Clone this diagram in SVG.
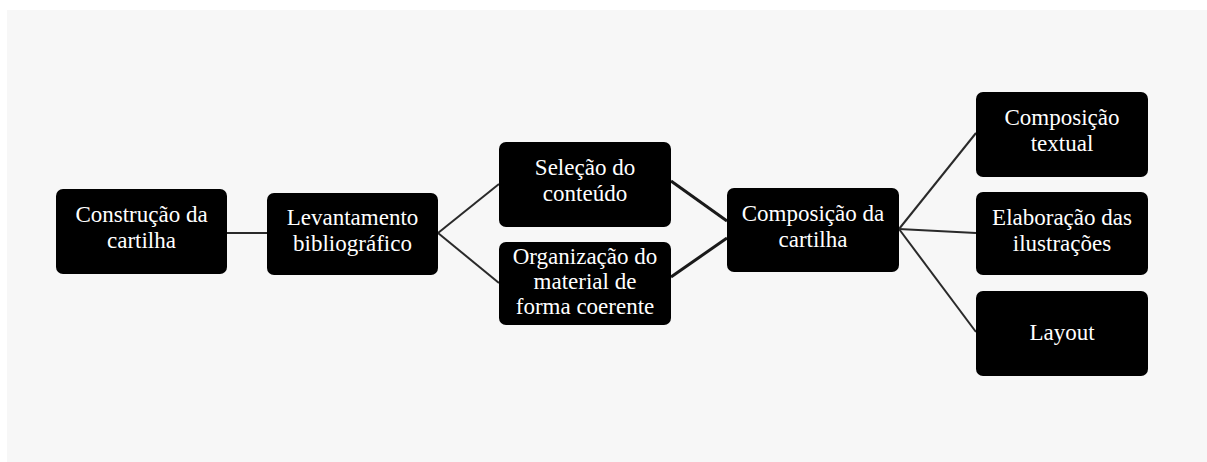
<svg xmlns="http://www.w3.org/2000/svg" width="1207" height="462" viewBox="0 0 1207 462">
<style>
.box{fill:#000;}
.t{font-family:"Liberation Serif","DejaVu Serif",serif;font-size:23px;fill:#fff;text-anchor:middle;}
.c{stroke:#2a2a2a;stroke-width:2;fill:none;}
.c3{stroke:#1a1a1a;stroke-width:3;fill:none;}
</style>
<rect x="0" y="0" width="1207" height="462" fill="#ffffff"/>
<rect x="7" y="10" width="1200" height="452" fill="#f7f7f7"/>
<g id="connectors">
<line class="c" x1="227" y1="233" x2="267" y2="233"/>
<line class="c" x1="438" y1="233" x2="499" y2="184"/>
<line class="c" x1="438" y1="233" x2="499" y2="283"/>
<line class="c3" x1="671" y1="181" x2="727" y2="221"/>
<line class="c3" x1="671" y1="277" x2="727" y2="238"/>
<line class="c" x1="899" y1="229" x2="976" y2="133"/>
<line class="c" x1="899" y1="229" x2="976" y2="233"/>
<line class="c" x1="899" y1="229" x2="976" y2="332"/>
</g>
<g id="n1">
<rect class="box" x="56" y="189" width="171" height="85" rx="7"/>
<text class="t" x="141.5" y="222">Construção da</text>
<text class="t" x="141.5" y="248">cartilha</text>
</g>
<g id="n2">
<rect class="box" x="267" y="193" width="171" height="82" rx="7"/>
<text class="t" x="352.5" y="225">Levantamento</text>
<text class="t" x="352.5" y="251">bibliográfico</text>
</g>
<g id="n3">
<rect class="box" x="499" y="142" width="172" height="85" rx="7"/>
<text class="t" x="585" y="175">Seleção do</text>
<text class="t" x="585" y="201">conteúdo</text>
</g>
<g id="n4">
<rect class="box" x="499" y="242" width="172" height="83" rx="7"/>
<text class="t" x="585" y="264">Organização do</text>
<text class="t" x="585" y="289">material de</text>
<text class="t" x="585" y="314">forma coerente</text>
</g>
<g id="n5">
<rect class="box" x="727" y="188" width="172" height="84" rx="7"/>
<text class="t" x="813" y="221">Composição da</text>
<text class="t" x="813" y="247">cartilha</text>
</g>
<g id="n6">
<rect class="box" x="976" y="92" width="172" height="85" rx="7"/>
<text class="t" x="1062" y="125">Composição</text>
<text class="t" x="1062" y="151">textual</text>
</g>
<g id="n7">
<rect class="box" x="976" y="192" width="172" height="83" rx="7"/>
<text class="t" x="1062" y="225">Elaboração das</text>
<text class="t" x="1062" y="251">ilustrações</text>
</g>
<g id="n8">
<rect class="box" x="976" y="291" width="172" height="85" rx="7"/>
<text class="t" x="1062" y="340">Layout</text>
</g>
</svg>
